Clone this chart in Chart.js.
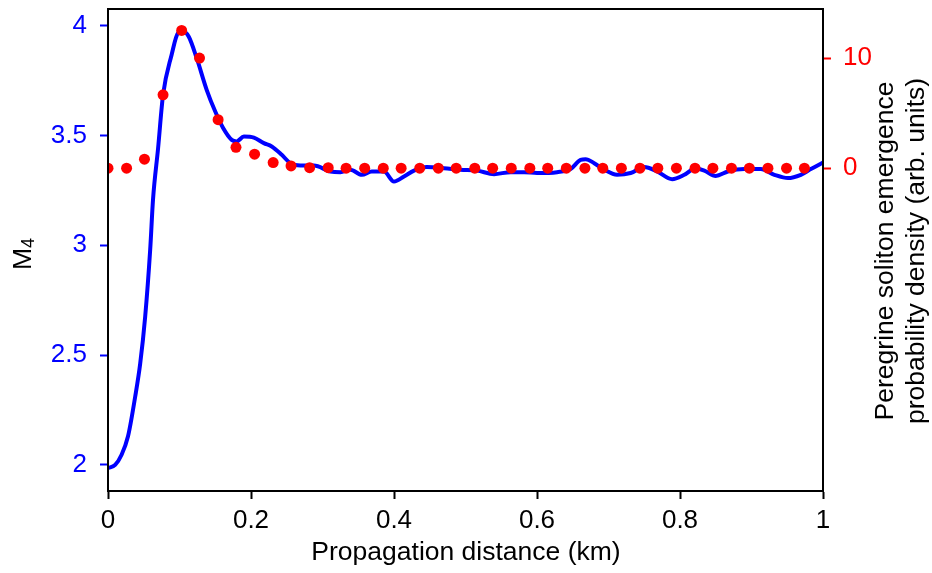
<!DOCTYPE html>
<html>
<head>
<meta charset="utf-8">
<script src="https://cdn.jsdelivr.net/npm/chart.js@4/dist/chart.umd.min.js"></script>
<style>
  html, body { margin: 0; padding: 0; background: #fff; }
  #wrap { width: 932px; height: 573px; }
</style>
</head>
<body>
<div id="wrap"><canvas id="c" width="932" height="573"></canvas></div>
<script>
// M4 curve (blue, left axis)
const m4Km = [0.000, 0.010, 0.019, 0.028, 0.038, 0.045, 0.052, 0.059, 0.063, 0.070, 0.077, 0.089, 0.098, 0.105, 0.113, 0.124, 0.138, 0.150, 0.161, 0.173, 0.180, 0.190, 0.204, 0.218, 0.229, 0.243, 0.255, 0.269, 0.288, 0.311, 0.325, 0.339, 0.355, 0.369, 0.386, 0.400, 0.414, 0.428, 0.446, 0.470, 0.493, 0.516, 0.540, 0.563, 0.582, 0.600, 0.628, 0.647, 0.661, 0.668, 0.680, 0.694, 0.712, 0.731, 0.750, 0.768, 0.789, 0.806, 0.822, 0.834, 0.850, 0.867, 0.890, 0.913, 0.932, 0.951, 0.969, 0.983, 1.000];
const m4Values = [1.985, 2.00, 2.046, 2.13, 2.31, 2.46, 2.675, 2.98, 3.21, 3.44, 3.685, 3.868, 3.967, 3.975, 3.95, 3.853, 3.708, 3.609, 3.534, 3.48, 3.473, 3.495, 3.49, 3.465, 3.45, 3.412, 3.374, 3.363, 3.363, 3.336, 3.333, 3.344, 3.321, 3.336, 3.336, 3.29, 3.313, 3.34, 3.356, 3.351, 3.344, 3.34, 3.324, 3.333, 3.333, 3.329, 3.333, 3.347, 3.389, 3.392, 3.374, 3.344, 3.321, 3.329, 3.356, 3.336, 3.301, 3.321, 3.351, 3.34, 3.316, 3.336, 3.347, 3.347, 3.321, 3.306, 3.321, 3.347, 3.377];

// Peregrine soliton probability density (red dots, right axis)
const psKm = [0.000, 0.026, 0.051, 0.077, 0.103, 0.128, 0.154, 0.179, 0.205, 0.231, 0.256, 0.282, 0.308, 0.333, 0.359, 0.385, 0.410, 0.436, 0.462, 0.487, 0.513, 0.538, 0.564, 0.590, 0.615, 0.641, 0.667, 0.692, 0.718, 0.744, 0.769, 0.795, 0.821, 0.846, 0.872, 0.897, 0.923, 0.949, 0.974];
const psValues = [0, 0, 0.82, 6.66, 12.5, 10.0, 4.4, 1.9, 1.27, 0.51, 0.21, 0.05, 0.05, 0, 0, 0, 0, 0, 0, 0, 0, 0, 0, 0, 0, 0, 0, 0, 0, 0, 0, 0, 0, 0, 0, 0, 0, 0, 0];

const xTicks = [0, 0.2, 0.4, 0.6, 0.8, 1];
const leftTicks = [2, 2.5, 3, 3.5, 4];
const rightTicks = [0, 10];

const FONT = 'Liberation Sans, Arial, Helvetica, sans-serif';
const BLUE = '#0000ff';
const RED = '#ff0000';

const fixTicks = (vals) => (scale) => { scale.ticks = vals.map(v => ({ value: v })); };
const plainLabel = (v) => String(v);

const titles = {
  id: 'titles',
  afterDraw(chart) {
    const { ctx, chartArea: a } = chart;
    ctx.save();
    // plot frame
    ctx.strokeStyle = '#000';
    ctx.lineWidth = 2;
    ctx.strokeRect(a.left, a.top, a.right - a.left, a.bottom - a.top);

    ctx.fillStyle = '#000';
    ctx.textBaseline = 'middle';
    ctx.textAlign = 'center';
    ctx.font = '26.5px ' + FONT;
    ctx.fillText('Propagation distance (km)', 466, 553);

    // left title M4 with subscript
    ctx.save();
    ctx.translate(24, 254);
    ctx.rotate(-Math.PI / 2);
    ctx.textAlign = 'left';
    ctx.font = '26.5px ' + FONT;
    const mW = ctx.measureText('M').width;
    ctx.font = '18px ' + FONT;
    const sW = ctx.measureText('4').width;
    const start = -(mW + sW) / 2;
    ctx.font = '26.5px ' + FONT;
    ctx.fillText('M', start, 0);
    ctx.font = '18px ' + FONT;
    ctx.fillText('4', start + mW, 5);
    ctx.restore();

    // right title, two lines
    ctx.save();
    ctx.translate(886, 251);
    ctx.rotate(-Math.PI / 2);
    ctx.font = '26.5px ' + FONT;
    ctx.fillText('Peregrine soliton emergence', 0, 0);
    ctx.fillText('probability density (arb. units)', 0, 31);
    ctx.restore();
    ctx.restore();
  }
};

new Chart(document.getElementById('c'), {
  type: 'scatter',
  data: {
    datasets: [
      {
        label: 'Peregrine soliton',
        data: psKm.map((x, i) => ({ x, y: psValues[i] })),
        yAxisID: 'yR',
        showLine: false,
        pointRadius: 5.5,
        pointBackgroundColor: RED,
        pointBorderWidth: 0,
        order: 0
      },
      {
        label: 'M4',
        data: m4Km.map((x, i) => ({ x, y: m4Values[i] })),
        yAxisID: 'yL',
        showLine: true,
        borderColor: BLUE,
        borderWidth: 4,
        pointRadius: 0,
        cubicInterpolationMode: 'monotone',
        order: 1
      }
    ]
  },
  options: {
    responsive: false,
    animation: false,
    devicePixelRatio: 1,
    layout: { padding: { top: 9, left: 0, right: 0, bottom: 0 } },
    plugins: { legend: { display: false }, tooltip: { enabled: false } },
    scales: {
      x: {
        type: 'linear',
        min: 0, max: 1,
        afterBuildTicks: fixTicks(xTicks),
        afterFit: (s) => { s.height = 82; s.paddingLeft = 0; s.paddingRight = 0; },
        grid: { drawOnChartArea: false, tickLength: 8, tickColor: '#000', tickWidth: 2 },
        border: { color: '#000', width: 2 },
        ticks: { color: '#000', font: { family: FONT, size: 26 }, padding: 6, maxRotation: 0, callback: plainLabel }
      },
      yL: {
        position: 'left',
        min: 1.881, max: 4.076,
        afterBuildTicks: fixTicks(leftTicks),
        afterFit: (s) => { s.width = 108; s.paddingTop = 0; s.paddingBottom = 0; },
        grid: { drawOnChartArea: false, tickLength: 8, tickColor: BLUE, tickWidth: 2 },
        border: { color: '#000', width: 2 },
        ticks: { color: BLUE, font: { family: FONT, size: 26 }, padding: 13, callback: plainLabel }
      },
      yR: {
        position: 'right',
        min: -29.3, max: 14.45,
        afterBuildTicks: fixTicks(rightTicks),
        afterFit: (s) => { s.width = 109; s.paddingTop = 0; s.paddingBottom = 0; },
        grid: { drawOnChartArea: false, tickLength: 8, tickColor: RED, tickWidth: 2 },
        border: { color: '#000', width: 2 },
        ticks: { color: RED, font: { family: FONT, size: 26 }, padding: 12, callback: plainLabel }
      }
    }
  },
  plugins: [titles]
});
</script>
</body>
</html>
